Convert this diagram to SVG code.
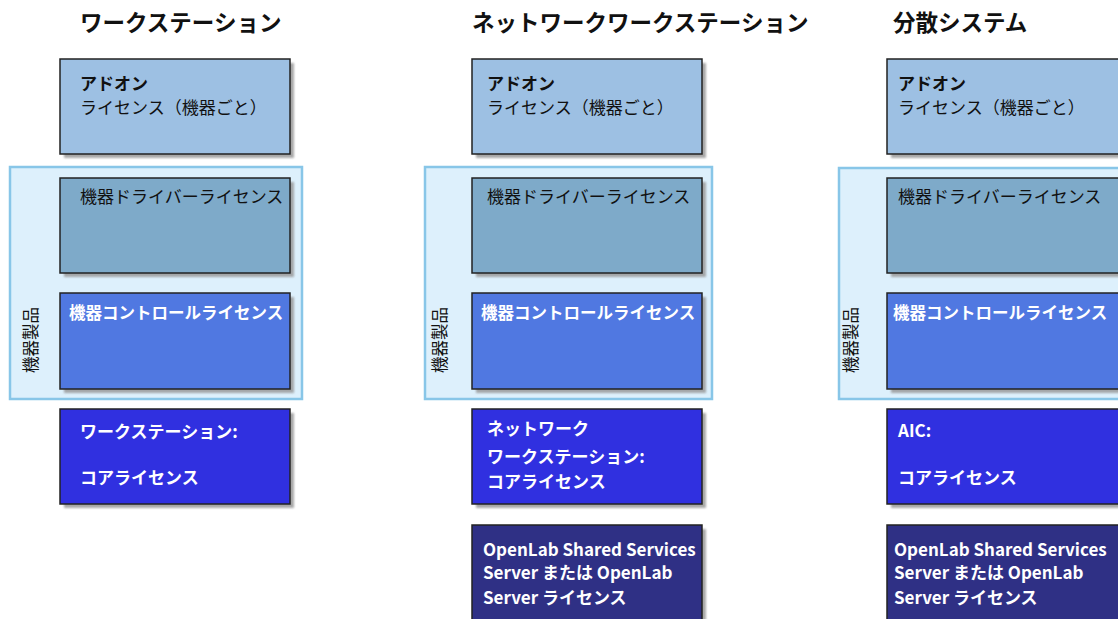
<svg xmlns="http://www.w3.org/2000/svg" width="1118" height="619" viewBox="0 0 1118 619">
<style>
text{font-family:"Noto Sans CJK JP","Noto Sans",sans-serif;}
.title{font-size:22.5px;font-weight:bold;fill:#111;}
.grp{fill:#ddf0fc;stroke:#88c6e8;stroke-width:2.5;}
.shadow{fill:#9a9a9a;opacity:0.85;}
.box{stroke:#222;stroke-width:1.5;}
.addon{fill:#9dc0e3;}
.driver{fill:#7eaac9;}
.control{fill:#5078e1;}
.core{fill:#3030e0;}
.server{fill:#2f3085;}
.dark{font-size:17px;fill:#111;}
.darkb{font-size:17px;fill:#111;font-weight:bold;}
.white{font-size:17px;fill:#fff;font-weight:bold;}
.ctl{font-size:16.5px;fill:#fff;font-weight:bold;}
.vlabel{font-size:16.5px;fill:#111;}
</style>
<defs>
<filter id="sh" x="-10%" y="-10%" width="130%" height="130%"><feGaussianBlur stdDeviation="0.8"/></filter>
</defs>
<g id="titles">
<text class="title" x="80" y="31">ワークステーション</text>
<text class="title" x="472" y="31">ネットワークワークステーション</text>
<text class="title" x="893" y="31">分散システム</text>
</g>
<g id="groups">
<g id="group-left"><rect class="grp" x="10" y="167" width="292" height="232"/><text class="vlabel" transform="translate(37,340) rotate(-90)" text-anchor="middle">機器製品</text></g>
<g id="group-mid"><rect class="grp" x="425" y="167" width="287" height="232"/><text class="vlabel" transform="translate(446,340) rotate(-90)" text-anchor="middle">機器製品</text></g>
<g id="group-right"><rect class="grp" x="839" y="168" width="290" height="231"/><text class="vlabel" transform="translate(857,340) rotate(-90)" text-anchor="middle">機器製品</text></g>
</g>
<g id="left-column">
<g id="addon-left"><rect class="shadow" x="64" y="63" width="230" height="95" filter="url(#sh)"/><rect class="box addon" x="60" y="59" width="230" height="95"/><text class="darkb" x="80" y="90">アドオン</text><text class="dark" x="80" y="113.5">ライセンス（機器ごと）</text></g>
<g id="driver-left"><rect class="shadow" x="64" y="182" width="230" height="95" filter="url(#sh)"/><rect class="box driver" x="60" y="178" width="230" height="95"/><text class="dark" x="80" y="203">機器ドライバーライセンス</text></g>
<g id="control-left"><rect class="shadow" x="64" y="297" width="230" height="96" filter="url(#sh)"/><rect class="box control" x="60" y="293" width="230" height="96"/><text class="ctl" x="69" y="319">機器コントロールライセンス</text></g>
<g id="core-left"><rect class="shadow" x="64" y="413" width="230" height="95" filter="url(#sh)"/><rect class="box core" x="60" y="409" width="230" height="95"/><text class="white" x="80" y="438">ワークステーション:</text><text class="white" x="80" y="484">コアライセンス</text></g>
</g>
<g id="mid-column">
<g id="addon-mid"><rect class="shadow" x="476" y="63" width="230" height="95" filter="url(#sh)"/><rect class="box addon" x="472" y="59" width="230" height="95"/><text class="darkb" x="487" y="90">アドオン</text><text class="dark" x="487" y="113.5">ライセンス（機器ごと）</text></g>
<g id="driver-mid"><rect class="shadow" x="476" y="182" width="230" height="95" filter="url(#sh)"/><rect class="box driver" x="472" y="178" width="230" height="95"/><text class="dark" x="487" y="203">機器ドライバーライセンス</text></g>
<g id="control-mid"><rect class="shadow" x="476" y="297" width="230" height="96" filter="url(#sh)"/><rect class="box control" x="472" y="293" width="230" height="96"/><text class="ctl" x="481" y="319">機器コントロールライセンス</text></g>
<g id="core-mid"><rect class="shadow" x="476" y="413" width="230" height="95" filter="url(#sh)"/><rect class="box core" x="472" y="409" width="230" height="95"/><text class="white" x="487" y="435">ネットワーク</text><text class="white" x="487" y="463">ワークステーション:</text><text class="white" x="487" y="488">コアライセンス</text></g>
<g id="server-mid"><rect class="shadow" x="476" y="529" width="230" height="100" filter="url(#sh)"/><rect class="box server" x="472" y="525" width="230" height="100"/><text class="white" x="483" y="556">OpenLab Shared Services</text><text class="white" x="483" y="579">Server または OpenLab</text><text class="white" x="483" y="604">Server ライセンス</text></g>
</g>
<g id="right-column">
<g id="addon-right"><rect class="shadow" x="891" y="63" width="232" height="95" filter="url(#sh)"/><rect class="box addon" x="887" y="59" width="232" height="95"/><text class="darkb" x="898" y="90">アドオン</text><text class="dark" x="898" y="113.5">ライセンス（機器ごと）</text></g>
<g id="driver-right"><rect class="shadow" x="891" y="182" width="232" height="95" filter="url(#sh)"/><rect class="box driver" x="887" y="178" width="232" height="95"/><text class="dark" x="898" y="203">機器ドライバーライセンス</text></g>
<g id="control-right"><rect class="shadow" x="891" y="297" width="232" height="96" filter="url(#sh)"/><rect class="box control" x="887" y="293" width="232" height="96"/><text class="ctl" x="893" y="319">機器コントロールライセンス</text></g>
<g id="core-right"><rect class="shadow" x="891" y="413" width="232" height="95" filter="url(#sh)"/><rect class="box core" x="887" y="409" width="232" height="95"/><text class="white" x="898" y="437">AIC:</text><text class="white" x="898" y="484">コアライセンス</text></g>
<g id="server-right"><rect class="shadow" x="891" y="529" width="232" height="100" filter="url(#sh)"/><rect class="box server" x="887" y="525" width="232" height="100"/><text class="white" x="894" y="556">OpenLab Shared Services</text><text class="white" x="894" y="579">Server または OpenLab</text><text class="white" x="894" y="604">Server ライセンス</text></g>
</g>
<g id="connectors"></g>
</svg>
